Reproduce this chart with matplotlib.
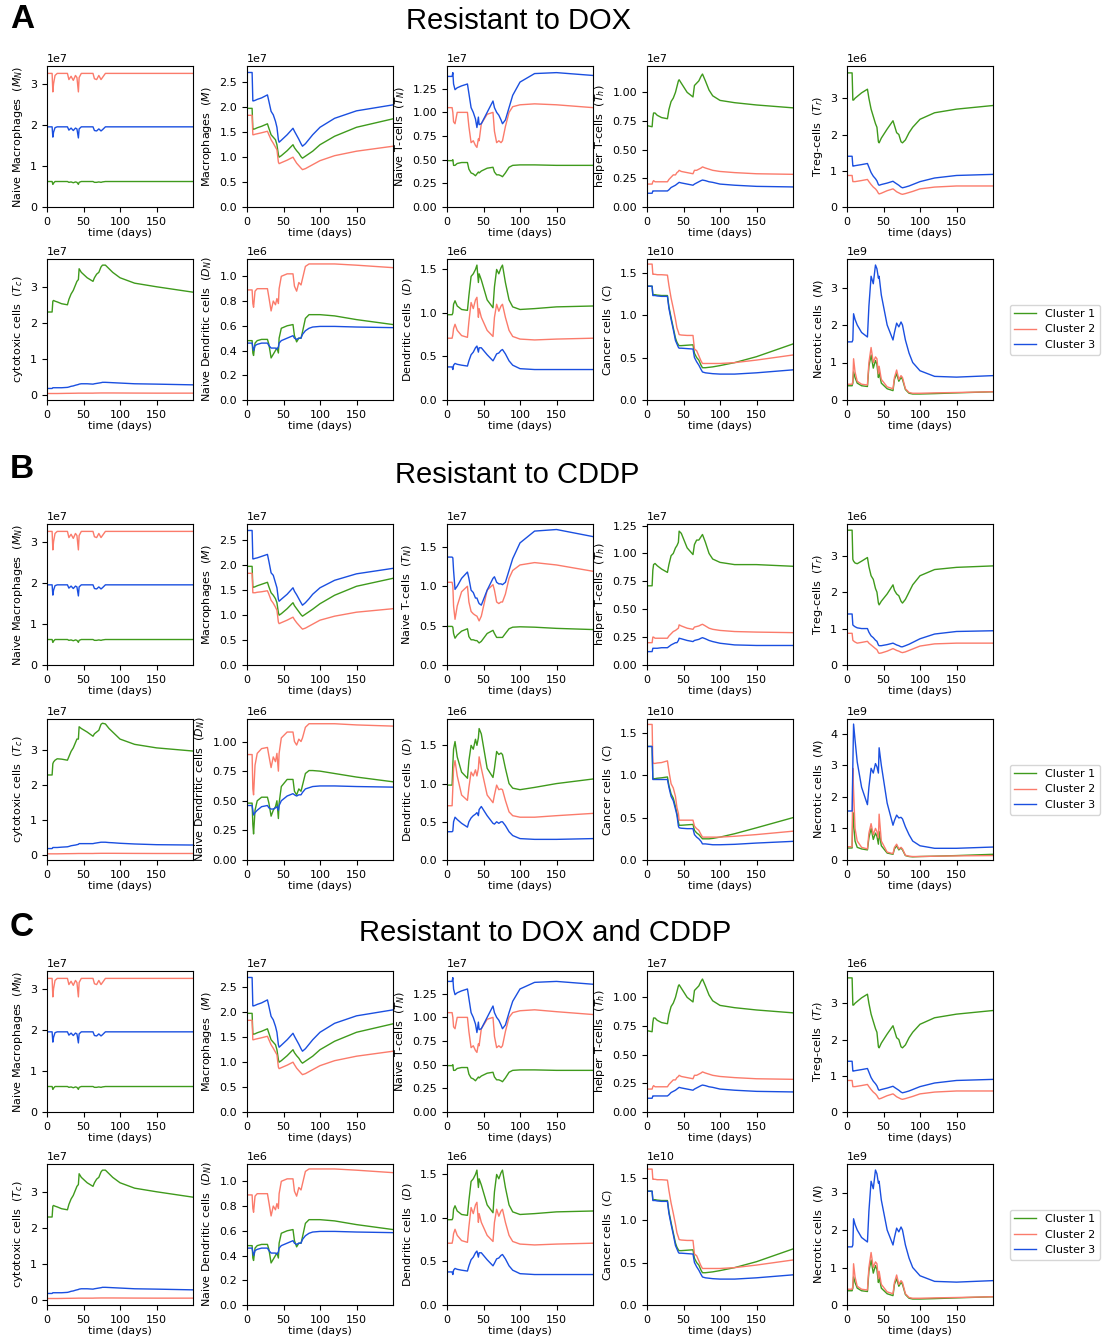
import numpy as np
import matplotlib.pyplot as plt
from matplotlib.ticker import MultipleLocator

plt.rcParams['font.size'] = 8

# sample days shared by every curve
DAYS = [0, 7, 8, 9, 11, 14, 20, 28, 30, 33, 36, 39, 41, 43, 44, 47, 55, 63, 65,
        68, 71, 74, 76, 80, 85, 90, 100, 120, 150, 200]

CLUSTERS = ['Cluster 1', 'Cluster 2', 'Cluster 3']
COLORS = ['#3f9a1c', '#fb7b6b', '#1a4fe0']

# ---------------- Resistant to DOX (values in units of the panel scale) ----------
# each panel: [cluster 1, cluster 2, cluster 3]
A_MN = [
    [0.62, 0.62, 0.55, 0.58, 0.62, 0.62, 0.62, 0.62, 0.6, 0.61, 0.59, 0.61, 0.6, 0.55, 0.6,
     0.62, 0.62, 0.62, 0.6, 0.6, 0.61, 0.6, 0.61, 0.62, 0.62, 0.62, 0.62, 0.62, 0.62, 0.62],
    [3.25, 3.25, 2.8, 3.0, 3.2, 3.25, 3.25, 3.25, 3.1, 3.18, 3.08, 3.2, 3.15, 2.8, 3.15,
     3.25, 3.25, 3.25, 3.12, 3.1, 3.2, 3.1, 3.15, 3.25, 3.25, 3.25, 3.25, 3.25, 3.25, 3.25],
    [1.95, 1.95, 1.7, 1.82, 1.93, 1.95, 1.95, 1.95, 1.87, 1.92, 1.86, 1.92, 1.9, 1.68, 1.9,
     1.95, 1.95, 1.95, 1.86, 1.85, 1.9, 1.85, 1.88, 1.95, 1.95, 1.95, 1.95, 1.95, 1.95, 1.95],
]
A_M = [
    [1.98, 1.98, 1.56, 1.56, 1.57, 1.59, 1.62, 1.67, 1.58, 1.45, 1.4, 1.35, 1.25, 1.05, 1.0,
     1.03, 1.13, 1.25, 1.19, 1.13, 1.08, 1.01, 0.98, 1.02, 1.07, 1.12, 1.25, 1.42, 1.6, 1.77],
    [1.84, 1.84, 1.45, 1.45, 1.46, 1.47, 1.49, 1.52, 1.45, 1.35, 1.28, 1.2, 1.15, 0.9, 0.87,
     0.89, 0.94, 1.0, 0.95, 0.88, 0.83, 0.78, 0.75, 0.77, 0.81, 0.85, 0.93, 1.03, 1.12, 1.22],
    [2.7, 2.7, 2.13, 2.13, 2.14, 2.16, 2.19, 2.25, 2.12, 1.92, 1.85, 1.72, 1.6, 1.35, 1.3,
     1.34, 1.45, 1.58, 1.52, 1.44, 1.36, 1.27, 1.22, 1.27, 1.36, 1.45, 1.6, 1.78, 1.93, 2.05],
]
A_TN = [
    [0.49, 0.49, 0.5, 0.44, 0.44, 0.46, 0.47, 0.47, 0.4, 0.36, 0.35, 0.33, 0.35, 0.37, 0.36,
     0.38, 0.41, 0.42, 0.37, 0.34, 0.34, 0.33, 0.32, 0.36, 0.42, 0.44, 0.445, 0.445, 0.44, 0.44],
    [1.05, 1.05, 1.0, 0.9, 0.88, 1.0, 1.0, 1.0, 0.85, 0.68, 0.7, 0.65, 0.63, 0.72, 0.7,
     0.88, 0.98, 1.0, 0.8, 0.68, 0.7, 0.68, 0.7, 0.85, 1.0, 1.06, 1.08, 1.09, 1.08, 1.05],
    [1.38, 1.38, 1.42, 1.3, 1.24, 1.26, 1.28, 1.3, 1.2, 1.05, 1.0, 0.93, 0.84, 0.95, 0.87,
     0.88, 1.0, 1.12, 1.05, 1.0, 0.97, 0.92, 0.88, 0.92, 1.05, 1.18, 1.32, 1.41, 1.42, 1.39],
]
A_TH = [
    [0.71, 0.7, 0.78, 0.82, 0.82, 0.8, 0.78, 0.77, 0.85, 0.92, 0.95, 1.0, 1.05, 1.1, 1.11,
     1.08, 1.0, 0.96, 1.06, 1.08, 1.1, 1.14, 1.16, 1.1, 1.02, 0.97, 0.93, 0.91, 0.89, 0.865],
    [0.2, 0.2, 0.22, 0.23, 0.22, 0.22, 0.22, 0.22, 0.24, 0.26, 0.28, 0.28, 0.3, 0.31, 0.32,
     0.31, 0.3, 0.29, 0.32, 0.32, 0.33, 0.34, 0.35, 0.34, 0.33, 0.32, 0.31, 0.3, 0.29, 0.285],
    [0.12, 0.12, 0.14, 0.14, 0.14, 0.14, 0.14, 0.14, 0.15, 0.17, 0.18, 0.19, 0.2, 0.21, 0.215,
     0.21, 0.2, 0.19, 0.2, 0.21, 0.22, 0.23, 0.235, 0.23, 0.22, 0.215, 0.2, 0.19, 0.18, 0.175],
]
A_TR = [
    [3.7, 3.7, 2.95, 2.95, 3.0, 3.05, 3.15, 3.25, 3.0, 2.7, 2.5, 2.3, 2.2, 1.8, 1.77,
     1.9, 2.15, 2.38, 2.25, 2.05, 2.0, 1.8, 1.77, 1.85, 2.05, 2.2, 2.42, 2.6, 2.7, 2.8],
    [0.87, 0.87, 0.7, 0.7, 0.7, 0.71, 0.73, 0.76, 0.7, 0.62, 0.55, 0.5, 0.45, 0.38, 0.36,
     0.38, 0.45, 0.5, 0.47, 0.42, 0.39, 0.36, 0.35, 0.37, 0.4, 0.43, 0.5, 0.55, 0.58, 0.58],
    [1.4, 1.4, 1.13, 1.13, 1.14, 1.15, 1.17, 1.2, 1.1, 0.95, 0.85, 0.78, 0.72, 0.62, 0.6,
     0.62, 0.66, 0.71, 0.68, 0.64, 0.6, 0.55, 0.53, 0.55, 0.58, 0.62, 0.7, 0.8, 0.87, 0.9],
]
A_TC = [
    [2.3, 2.3, 2.6, 2.62, 2.6, 2.58, 2.53, 2.5, 2.65, 2.8, 2.9, 3.05, 3.15, 3.2, 3.5,
     3.4, 3.25, 3.15, 3.25, 3.35, 3.4, 3.55, 3.6, 3.6, 3.5, 3.4, 3.25, 3.1, 3.0, 2.85],
    [0.04, 0.04, 0.04, 0.04, 0.04, 0.04, 0.042, 0.045, 0.045, 0.046, 0.047, 0.048, 0.049, 0.05, 0.05,
     0.05, 0.05, 0.05, 0.052, 0.053, 0.054, 0.055, 0.055, 0.055, 0.055, 0.055, 0.054, 0.052, 0.05, 0.05],
    [0.18, 0.18, 0.2, 0.2, 0.2, 0.2, 0.2, 0.21, 0.22, 0.24, 0.25, 0.27, 0.28, 0.29, 0.3,
     0.31, 0.31, 0.3, 0.31, 0.32, 0.33, 0.34, 0.35, 0.35, 0.345, 0.34, 0.33, 0.31, 0.3, 0.28],
]
A_DN = [
    [0.48, 0.48, 0.38, 0.36, 0.46, 0.48, 0.49, 0.49, 0.45, 0.34, 0.37, 0.4, 0.42, 0.38, 0.5,
     0.58, 0.6, 0.61, 0.52, 0.47, 0.5, 0.5, 0.55, 0.66, 0.69, 0.69, 0.69, 0.68, 0.65, 0.61],
    [0.89, 0.89, 0.78, 0.75, 0.88, 0.9, 0.9, 0.9, 0.83, 0.72, 0.8, 0.77, 0.82, 0.78, 0.9,
     1.0, 1.02, 1.02, 0.92, 0.88, 0.95, 0.93, 0.98, 1.08, 1.1, 1.1, 1.1, 1.1, 1.09, 1.07],
    [0.46, 0.46, 0.43, 0.4, 0.44, 0.45, 0.46, 0.46, 0.44, 0.42, 0.42, 0.42, 0.41, 0.43, 0.46,
     0.48, 0.5, 0.52, 0.5, 0.49, 0.5, 0.5, 0.53, 0.56, 0.58, 0.59, 0.595, 0.595, 0.59, 0.585],
]
A_D = [
    [0.98, 0.98, 1.0, 1.1, 1.14, 1.08, 1.04, 1.03, 1.2, 1.42, 1.45, 1.5, 1.55, 1.35, 1.45,
     1.38, 1.15, 1.06, 1.3, 1.5, 1.45, 1.52, 1.55, 1.35, 1.15, 1.07, 1.04, 1.05, 1.07, 1.08],
    [0.71, 0.71, 0.75, 0.82, 0.87, 0.8, 0.74, 0.72, 0.9, 1.12, 1.05, 1.15, 1.18, 0.95, 1.05,
     0.95, 0.8, 0.73, 0.95, 1.1, 1.02, 1.08, 1.1, 0.95, 0.8, 0.73, 0.7, 0.69, 0.7, 0.71],
    [0.38, 0.38, 0.35, 0.4, 0.42, 0.41, 0.4, 0.39, 0.45, 0.52, 0.55, 0.6, 0.62, 0.55, 0.6,
     0.6, 0.52, 0.45, 0.48, 0.53, 0.54, 0.57, 0.58, 0.53, 0.45, 0.4, 0.36, 0.35, 0.35, 0.35],
]
A_C = [
    [1.34, 1.34, 1.24, 1.24, 1.24, 1.235, 1.23, 1.23, 1.1, 0.97, 0.85, 0.73, 0.68, 0.65, 0.64,
     0.64, 0.645, 0.65, 0.55, 0.5, 0.47, 0.41, 0.38, 0.38, 0.385, 0.39, 0.405, 0.44, 0.51, 0.66],
    [1.6, 1.6, 1.48, 1.48, 1.48, 1.475, 1.475, 1.47, 1.35, 1.2, 1.08, 0.95, 0.85, 0.8, 0.77,
     0.765, 0.76, 0.76, 0.6, 0.58, 0.52, 0.46, 0.43, 0.43, 0.43, 0.43, 0.43, 0.44, 0.47, 0.53],
    [1.34, 1.34, 1.23, 1.23, 1.23, 1.225, 1.22, 1.22, 1.08, 0.95, 0.83, 0.7, 0.66, 0.62, 0.61,
     0.61, 0.605, 0.6, 0.5, 0.45, 0.41, 0.36, 0.33, 0.32, 0.315, 0.31, 0.305, 0.305, 0.32, 0.355],
]
A_N = [
    [0.38, 0.38, 0.45, 0.75, 0.6, 0.45, 0.38, 0.36, 0.9, 1.2, 0.85, 1.05, 0.95, 0.6, 0.75,
     0.45, 0.3, 0.25, 0.55, 0.7, 0.5, 0.6, 0.55, 0.28, 0.18, 0.16, 0.16, 0.17, 0.19, 0.22],
    [0.42, 0.42, 0.5, 1.1, 0.75, 0.5, 0.42, 0.4, 1.0, 1.4, 1.0, 1.15, 1.1, 0.7, 0.9,
     0.55, 0.35, 0.3, 0.6, 0.8, 0.55, 0.65, 0.6, 0.3, 0.2, 0.18, 0.18, 0.19, 0.2, 0.22],
    [1.55, 1.55, 1.6, 2.3, 2.15, 2.0, 1.8, 1.68, 2.5, 3.3, 3.1, 3.6, 3.5, 3.25, 3.3,
     2.8, 2.0, 1.6, 1.8, 2.05, 1.95, 2.08, 2.0, 1.6, 1.25, 1.0, 0.78, 0.63, 0.61, 0.65],
]

# ---------------- Resistant to CDDP ----------------
B_MN = A_MN
B_M = [
    [1.98, 1.98, 1.56, 1.56, 1.57, 1.59, 1.62, 1.66, 1.57, 1.45, 1.4, 1.33, 1.25, 1.05, 1.0,
     1.03, 1.13, 1.25, 1.19, 1.13, 1.07, 1.01, 0.98, 1.02, 1.07, 1.12, 1.23, 1.4, 1.58, 1.74],
    [1.84, 1.84, 1.45, 1.45, 1.45, 1.46, 1.47, 1.49, 1.42, 1.3, 1.24, 1.16, 1.1, 0.86, 0.83,
     0.85, 0.9, 0.96, 0.91, 0.85, 0.8, 0.75, 0.72, 0.74, 0.78, 0.82, 0.9, 0.98, 1.06, 1.13],
    [2.7, 2.7, 2.13, 2.13, 2.14, 2.15, 2.18, 2.22, 2.08, 1.85, 1.8, 1.65, 1.55, 1.32, 1.28,
     1.32, 1.42, 1.55, 1.48, 1.41, 1.33, 1.25, 1.2, 1.25, 1.33, 1.42, 1.55, 1.7, 1.83, 1.94],
]
B_TN = [
    [0.49, 0.49, 0.48, 0.4, 0.34, 0.38, 0.43, 0.46, 0.36, 0.32, 0.32, 0.31, 0.31, 0.29, 0.28,
     0.3, 0.4, 0.44, 0.4, 0.35, 0.35, 0.35, 0.35, 0.4, 0.46, 0.48, 0.485, 0.48, 0.465, 0.45],
    [1.05, 1.05, 1.0, 0.75, 0.58, 0.75, 0.93, 1.0, 0.8, 0.68, 0.65, 0.63, 0.62, 0.58, 0.56,
     0.62, 0.95, 1.02, 0.95, 0.8, 0.78, 0.8, 0.8, 0.9, 1.1, 1.2, 1.27, 1.3, 1.27, 1.19],
    [1.37, 1.37, 1.36, 1.2, 0.96, 1.0, 1.1, 1.18, 1.1, 0.95, 0.92, 0.85, 0.85, 0.8, 0.78,
     0.76, 0.95, 1.1, 1.12, 1.05, 1.03, 1.03, 1.02, 1.05, 1.2, 1.35, 1.55, 1.7, 1.72, 1.63],
]
B_TH = [
    [0.71, 0.71, 0.85, 0.9, 0.91, 0.89, 0.86, 0.83, 0.9, 0.98, 1.0, 1.05, 1.07, 1.1, 1.2,
     1.18, 1.05, 0.99, 1.08, 1.12, 1.12, 1.15, 1.17, 1.1, 1.0, 0.95, 0.92, 0.9, 0.9, 0.885],
    [0.2, 0.2, 0.25, 0.25, 0.24, 0.24, 0.24, 0.24, 0.26, 0.28, 0.3, 0.31, 0.32, 0.33, 0.36,
     0.35, 0.33, 0.32, 0.34, 0.345, 0.35, 0.36, 0.365, 0.35, 0.33, 0.32, 0.31, 0.3, 0.295, 0.29],
    [0.12, 0.12, 0.15, 0.15, 0.15, 0.15, 0.155, 0.155, 0.165, 0.18, 0.19, 0.2, 0.2, 0.22, 0.24,
     0.235, 0.22, 0.21, 0.22, 0.225, 0.23, 0.24, 0.245, 0.235, 0.22, 0.21, 0.195, 0.18, 0.175, 0.175],
]
B_TR = [
    [3.7, 3.7, 2.9, 2.85, 2.8, 2.78, 2.85, 2.95, 2.7, 2.45, 2.35, 2.1, 2.0, 1.7, 1.65,
     1.75, 1.95, 2.2, 2.05, 1.95, 1.9, 1.75, 1.7, 1.8, 2.0, 2.2, 2.45, 2.62, 2.68, 2.72],
    [0.87, 0.87, 0.68, 0.66, 0.63, 0.6, 0.62, 0.65, 0.6, 0.55, 0.5, 0.45, 0.42, 0.34, 0.32,
     0.33, 0.38, 0.45, 0.43, 0.4, 0.38, 0.35, 0.34, 0.36, 0.4, 0.44, 0.52, 0.58, 0.6, 0.6],
    [1.4, 1.4, 1.1, 1.08, 1.05, 1.02, 1.0, 1.0, 0.9, 0.8, 0.75, 0.68, 0.65, 0.55, 0.53,
     0.53, 0.56, 0.6, 0.58, 0.55, 0.53, 0.5, 0.5, 0.53, 0.57, 0.62, 0.72, 0.85, 0.92, 0.94],
]
B_TC = [
    [2.28, 2.28, 2.6, 2.65, 2.7, 2.74, 2.73, 2.7, 2.8, 2.95, 3.05, 3.2, 3.3, 3.3, 3.65,
     3.6, 3.5, 3.38, 3.45, 3.5, 3.55, 3.72, 3.75, 3.73, 3.6, 3.5, 3.3, 3.15, 3.05, 2.96],
    [0.04, 0.04, 0.04, 0.04, 0.04, 0.04, 0.042, 0.045, 0.045, 0.046, 0.047, 0.048, 0.049, 0.05, 0.05,
     0.05, 0.05, 0.05, 0.052, 0.053, 0.054, 0.055, 0.055, 0.055, 0.055, 0.055, 0.054, 0.052, 0.05, 0.05],
    [0.19, 0.19, 0.22, 0.22, 0.22, 0.22, 0.23, 0.24, 0.25, 0.27, 0.28, 0.29, 0.3, 0.31, 0.33,
     0.33, 0.33, 0.33, 0.34, 0.35, 0.36, 0.37, 0.37, 0.37, 0.36, 0.355, 0.34, 0.32, 0.3, 0.29],
]
B_DN = [
    [0.48, 0.48, 0.3, 0.22, 0.42, 0.5, 0.53, 0.53, 0.48, 0.37, 0.42, 0.45, 0.5, 0.35, 0.48,
     0.62, 0.68, 0.68, 0.58, 0.55, 0.6, 0.58, 0.63, 0.73, 0.755, 0.755, 0.75, 0.73, 0.7, 0.66],
    [0.89, 0.89, 0.6, 0.55, 0.8, 0.9, 0.94, 0.95, 0.88, 0.78, 0.87, 0.83, 0.9, 0.75, 0.9,
     1.03, 1.08, 1.08, 1.0, 0.97, 1.02, 1.0, 1.03, 1.12, 1.15, 1.15, 1.15, 1.15, 1.14, 1.13],
    [0.46, 0.46, 0.42, 0.38, 0.4, 0.42, 0.45, 0.46, 0.44, 0.43, 0.43, 0.44, 0.45, 0.42, 0.46,
     0.5, 0.54, 0.56, 0.55, 0.54, 0.55, 0.55, 0.57, 0.6, 0.61, 0.62, 0.625, 0.625, 0.62, 0.615],
]
B_D = [
    [0.98, 0.98, 1.25, 1.45, 1.55, 1.35, 1.15, 1.07, 1.3, 1.5, 1.45, 1.58, 1.5, 1.6, 1.72,
     1.65, 1.2, 1.08, 1.2, 1.42, 1.38, 1.4, 1.38, 1.2, 1.0, 0.94, 0.92, 0.95, 1.0, 1.06],
    [0.71, 0.71, 0.95, 1.2, 1.3, 1.1, 0.85, 0.78, 0.95, 1.15, 1.1, 1.18, 1.1, 1.2, 1.35,
     1.2, 0.85, 0.75, 0.85, 0.98, 0.92, 0.93, 0.92, 0.78, 0.63, 0.58, 0.56, 0.56, 0.58, 0.61],
    [0.37, 0.37, 0.38, 0.5, 0.56, 0.53, 0.48, 0.43, 0.5, 0.55, 0.58, 0.6, 0.62, 0.58, 0.66,
     0.7, 0.58, 0.48, 0.47, 0.5, 0.48, 0.5, 0.5, 0.45, 0.37, 0.32, 0.28, 0.27, 0.27, 0.28],
]
B_C = [
    [1.34, 1.34, 0.96, 0.96, 0.96, 0.965, 0.97, 0.98, 0.88, 0.78, 0.73, 0.63, 0.55, 0.45, 0.41,
     0.41, 0.415, 0.42, 0.35, 0.32, 0.3, 0.27, 0.25, 0.25, 0.25, 0.255, 0.27, 0.31, 0.38, 0.5],
    [1.6, 1.6, 1.14, 1.14, 1.14, 1.145, 1.15, 1.17, 1.05, 0.9, 0.85, 0.75, 0.62, 0.55, 0.47,
     0.47, 0.47, 0.47, 0.4, 0.37, 0.35, 0.3, 0.27, 0.27, 0.27, 0.27, 0.27, 0.28, 0.3, 0.34],
    [1.34, 1.34, 0.95, 0.95, 0.95, 0.95, 0.95, 0.95, 0.86, 0.75, 0.7, 0.6, 0.53, 0.4, 0.38,
     0.375, 0.37, 0.37, 0.3, 0.27, 0.25, 0.22, 0.19, 0.19, 0.185, 0.18, 0.18, 0.185, 0.2, 0.22],
]
B_N = [
    [0.38, 0.38, 1.5, 1.2, 0.6, 0.4, 0.35, 0.32, 0.7, 1.0, 0.65, 0.85, 0.75, 0.5, 0.9,
     0.45, 0.22, 0.18, 0.35, 0.45, 0.32, 0.38, 0.32, 0.14, 0.11, 0.1, 0.11, 0.12, 0.14, 0.18],
    [0.42, 0.42, 2.9, 2.2, 1.0, 0.6, 0.4, 0.35, 0.85, 1.15, 0.8, 1.0, 0.9, 0.7, 1.45,
     0.6, 0.25, 0.2, 0.4, 0.5, 0.35, 0.4, 0.35, 0.15, 0.12, 0.11, 0.11, 0.12, 0.13, 0.14],
    [1.55, 1.55, 3.0, 4.3, 3.8, 3.1, 2.3, 1.75, 2.3, 2.9, 2.75, 3.05, 2.95, 2.75, 3.55,
     3.0, 1.8, 1.1, 1.25, 1.42, 1.33, 1.35, 1.3, 1.05, 0.8, 0.6, 0.45, 0.37, 0.37, 0.41],
]

# ---------------- Resistant to DOX and CDDP (reads the same as DOX except T_N) ----
C_TN = [
    A_TN[0],
    [1.05, 1.05, 1.0, 0.9, 0.88, 1.0, 1.0, 1.0, 0.85, 0.68, 0.7, 0.65, 0.63, 0.72, 0.7,
     0.88, 0.98, 1.0, 0.8, 0.68, 0.7, 0.68, 0.7, 0.85, 1.0, 1.05, 1.07, 1.08, 1.06, 1.03],
    [1.38, 1.38, 1.42, 1.3, 1.24, 1.26, 1.28, 1.3, 1.2, 1.05, 1.0, 0.93, 0.84, 0.95, 0.87,
     0.88, 1.0, 1.12, 1.05, 1.0, 0.97, 0.92, 0.88, 0.92, 1.05, 1.17, 1.3, 1.37, 1.38, 1.35],
]

LABELS = ['Naive Macrophages  $(M_N)$', 'Macrophages  $(M)$', 'Naive T-cells  $(T_N)$',
          'helper T-cells  $(T_h)$', 'Treg-cells  $(T_r)$', 'cytotoxic cells  $(T_c)$',
          'Naive Dendritic cells  $(D_N)$', 'Dendritic cells  $(D)$', 'Cancer cells  $(C)$',
          'Necrotic cells  $(N)$']
SCALES = [1e7, 1e7, 1e7, 1e7, 1e6, 1e7, 1e6, 1e6, 1e10, 1e9]

# tick step and y range (in panel units) for each panel
A_STEPS = [1, 0.5, 0.25, 0.25, 1, 1, 0.2, 0.5, 0.5, 1]
A_YLIM = [(0, 3.43), (0, 2.83), (0, 1.49), (0, 1.23), (0, 3.89),
          (-0.14, 3.77), (0, 1.14), (0, 1.62), (0, 1.66), (0, 3.76)]
B_STEPS = [1, 0.5, 0.5, 0.25, 1, 1, 0.25, 0.5, 0.5, 1]
B_YLIM = [(0, 3.43), (0, 2.83), (0, 1.79), (0, 1.264), (0, 3.87),
          (-0.135, 3.87), (0, 1.19), (0, 1.845), (0, 1.664), (0, 4.46)]

sections = [
    ('A', 'Resistant to DOX', [A_MN, A_M, A_TN, A_TH, A_TR, A_TC, A_DN, A_D, A_C, A_N],
     A_STEPS, A_YLIM, (22, 20), (519, 21), (66, 259)),
    ('B', 'Resistant to CDDP', [B_MN, B_M, B_TN, B_TH, B_TR, B_TC, B_DN, B_D, B_C, B_N],
     B_STEPS, B_YLIM, (22, 470), (517, 475), (524, 719)),
    ('C', 'Resistant to DOX and CDDP', [A_MN, A_M, C_TN, A_TH, A_TR, A_TC, A_DN, A_D, A_C, A_N],
     A_STEPS, A_YLIM, (22, 928), (545, 933), (971, 1164)),
]

W, H = 1102, 1340
fig = plt.figure(figsize=(W / 100, H / 100), dpi=100)
lefts = [47, 247, 447, 647, 847]
aw, ah = 146, 141
days = np.array(DAYS)

for letter, title, panels, steps, ylims, lpos, tpos, tops in sections:
    fig.text(lpos[0] / W, 1 - lpos[1] / H, letter, fontsize=24, fontweight='bold',
             family='Liberation Sans', ha='center', va='center')
    fig.text(tpos[0] / W, 1 - tpos[1] / H, title, fontsize=21,
             family='Liberation Sans', ha='center', va='center')
    for k in range(10):
        row, col = divmod(k, 5)
        ax = fig.add_axes([lefts[col] / W, 1 - (tops[row] + ah) / H, aw / W, ah / H])
        sc = SCALES[k]
        for vals, name, color in zip(panels[k], CLUSTERS, COLORS):
            ax.plot(days, np.array(vals) * sc, color=color, lw=1.0, label=name)
        ax.set_xlim(0, 200)
        ax.set_xticks([0, 50, 100, 150])
        ax.set_ylim(ylims[k][0] * sc, ylims[k][1] * sc)
        ax.yaxis.set_major_locator(MultipleLocator(steps[k] * sc))
        ax.set_xlabel('time (days)', labelpad=1)
        ax.set_ylabel(LABELS[k])
        if k == 9:
            ax.legend(loc='center left', bbox_to_anchor=(1.075, 0.5), fontsize=8)

fig.savefig('out.png', dpi=100)
